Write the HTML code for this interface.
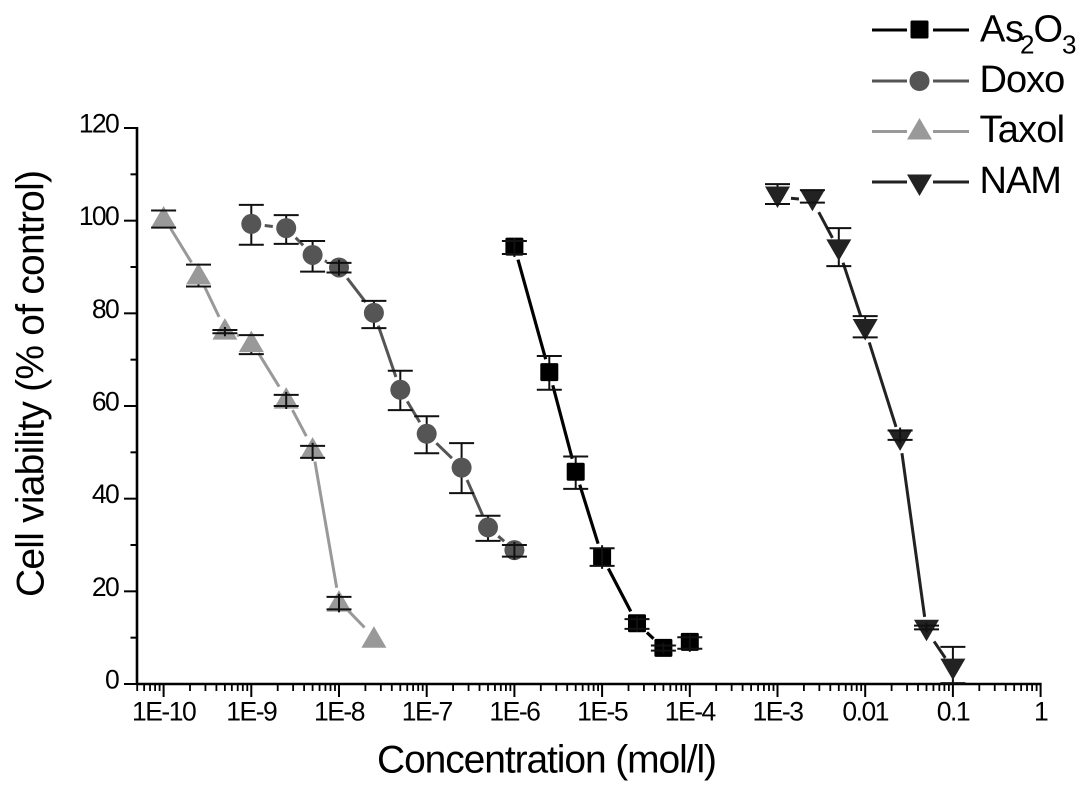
<!DOCTYPE html>
<html lang="en">
<head>
<meta charset="utf-8">
<title>Cell viability vs concentration</title>
<style>
  html, body { margin: 0; padding: 0; background: #fff; }
  body { width: 1087px; height: 794px; overflow: hidden; }
  svg { display: block; }
  text { font-family: "Liberation Sans", Arial, sans-serif; fill: #000; }
</style>
</head>
<body>
<svg id="chart" xmlns="http://www.w3.org/2000/svg" width="1087" height="794" viewBox="0 0 1087 794">
  <text transform="translate(43.500,383.500) rotate(-90)" text-anchor="middle" font-size="39" textLength="427" lengthAdjust="spacing">Cell viability (% of control)</text>
  <text x="547" y="772.500" text-anchor="middle" font-size="39" textLength="340" lengthAdjust="spacing">Concentration (mol/l)</text>

  <g>
    <g>
      <line x1="872" x2="907" y1="30" y2="30" stroke="#000" stroke-width="3"/>
      <line x1="933" x2="969" y1="30" y2="30" stroke="#000" stroke-width="3"/>
      <rect x="910.500" y="20.500" width="18" height="18" rx="1.500" fill="#000"/>
      <text font-size="38" y="41.500"><tspan x="980">A</tspan><tspan x="1005">s</tspan><tspan x="1020" y="53.500" font-size="26">2</tspan><tspan x="1033.500" y="41.500">O</tspan><tspan x="1062" y="53.500" font-size="26">3</tspan></text>
    </g>
    <g>
      <line x1="872" x2="907" y1="81" y2="81" stroke="#555" stroke-width="3"/>
      <line x1="933" x2="969" y1="81" y2="81" stroke="#555" stroke-width="3"/>
      <circle cx="919.500" cy="81" r="10" fill="#555"/>
      <text font-size="38" letter-spacing="-1" x="979.500" y="92">Doxo</text>
    </g>
    <g>
      <line x1="872" x2="907" y1="131.500" y2="131.500" stroke="#999" stroke-width="3"/>
      <line x1="933" x2="969" y1="131.500" y2="131.500" stroke="#999" stroke-width="3"/>
      <polygon points="919.500,118 932,139.500 907,139.500" fill="#999"/>
      <text font-size="38" letter-spacing="-0.8" x="979.500" y="142">Taxol</text>
    </g>
    <g>
      <line x1="872" x2="907" y1="182" y2="182" stroke="#222" stroke-width="3"/>
      <line x1="933" x2="969" y1="182" y2="182" stroke="#222" stroke-width="3"/>
      <polygon points="907,174.500 932,174.500 919.500,196" fill="#222"/>
      <text font-size="38" letter-spacing="-1" x="979.500" y="193">NAM</text>
    </g>
  </g>
</svg>
<script>
// ---- chart data ----
const yMajorTicks = [0, 20, 40, 60, 80, 100, 120];
const yMinorTicks = [10, 30, 50, 70, 90, 110];
const xMajorExponents = [-10, -9, -8, -7, -6, -5, -4, -3, -2, -1, 0];
const xTickLabels = ['1E-10', '1E-9', '1E-8', '1E-7', '1E-6', '1E-5', '1E-4', '1E-3', '0.01', '0.1', '1'];
const xMinorMultipliers = [2, 3, 4, 5, 6, 7, 8, 9];

const as2o3Conc  = [1e-6, 2.5e-6, 5e-6, 1e-5, 2.5e-5, 5e-5, 1e-4];
const as2o3Value = [94.4, 67.3, 45.8, 27.5, 13.1, 7.8, 9.1];
const as2o3Upper = [95.6, 70.8, 49.1, 29.3, 14.0, 8.3, 10.1];
const as2o3Lower = [92.8, 63.5, 42.1, 25.5, 11.9, 7.2, 7.6];

const doxoConc  = [1e-9, 2.5e-9, 5e-9, 1e-8, 2.5e-8, 5e-8, 1e-7, 2.5e-7, 5e-7, 1e-6];
const doxoValue = [99.3, 98.4, 92.6, 89.9, 80.1, 63.5, 54.0, 46.7, 33.8, 28.9];
const doxoUpper = [103.4, 101.2, 95.6, 90.9, 82.7, 67.6, 57.8, 52.0, 36.3, 30.0];
const doxoLower = [94.8, 95.0, 89.0, 88.8, 76.8, 59.1, 49.8, 41.2, 30.9, 27.5];

const taxolConc  = [1e-10, 2.5e-10, 5e-10, 1e-9, 2.5e-9, 5e-9, 1e-8, 2.5e-8];
const taxolValue = [100.8, 88.5, 76.6, 73.9, 61.7, 50.9, 17.9, 10.1];
const taxolUpper = [102.2, 90.5, 76.4, 75.3, 62.4, 51.4, 18.8, 10.1];
const taxolLower = [98.5, 85.8, 75.7, 71.2, 60.0, 48.8, 16.1, 10.1];

const namConc  = [1e-3, 2.5e-3, 5e-3, 0.01, 0.025, 0.05, 0.1];
const namValue = [105.1, 104.4, 93.7, 76.5, 52.7, 11.6, 3.2];
const namUpper = [107.9, 106.6, 98.4, 79.4, 54.7, 12.6, 8.0];
const namLower = [103.6, 103.9, 90.2, 74.8, 52.7, 11.8, 0.2];

// ---- axis functions ----
const NS = 'http://www.w3.org/2000/svg';
const svg = document.getElementById('chart');
const PX_PER_DECADE = 87.7, X_AT_1E10 = 163.6;
const Y_ZERO = 684, PX_PER_UNIT = 556 / 120;
function xFromLog(l) { return X_AT_1E10 + (l + 10) * PX_PER_DECADE; }
function xScale(c) { return xFromLog(Math.log10(c)); }
function yScale(v) { return Y_ZERO - v * PX_PER_UNIT; }

function make(tag, attrs, parent) {
  const el = document.createElementNS(NS, tag);
  for (const k in attrs) el.setAttribute(k, attrs[k]);
  parent.appendChild(el);
  return el;
}

// ---- axes ----
const xLeft = xFromLog(Math.log10(5e-11));
const xRight = xFromLog(0);
const axes = make('g', { stroke: '#000', 'stroke-width': 2 }, svg);



const yAxisLine = make('line', { x1: 137, x2: 137, y1: yScale(120) - 1, y2: Y_ZERO + 1, 'stroke-width': 2.6 }, axes);



const xAxisLine = make('line', { x1: xLeft, x2: xRight + 1, y1: Y_ZERO, y2: Y_ZERO, 'stroke-width': 2.4 }, axes);



yMajorTicks.forEach(function (v) {
  const t = make('line', { x1: 124, x2: 137, y1: yScale(v), y2: yScale(v) }, axes);
  
  
  const label = make('text', { x: 118, y: yScale(v) + 4.5, 'text-anchor': 'end', 'font-size': 26.5, 'letter-spacing': -1.7, stroke: 'none' }, svg);
  
  
  label.textContent = String(v);
});
yMinorTicks.forEach(function (v) {
  const t = make('line', { x1: 130.5, x2: 137, y1: yScale(v), y2: yScale(v) }, axes);
  
  
});

xMajorExponents.forEach(function (e, i) {
  const x = xFromLog(e);
  const t = make('line', { x1: x, x2: x, y1: Y_ZERO, y2: 697 }, axes);
  
  
  const label = make('text', { x: x, y: 720.5, 'text-anchor': 'middle', 'font-size': 26.5, 'letter-spacing': -1.5, stroke: 'none' }, svg);
  
  
  label.textContent = xTickLabels[i];
});
[-11].concat(xMajorExponents.slice(0, -1)).forEach(function (e) {
  xMinorMultipliers.forEach(function (m) {
    const l = e + Math.log10(m);
    if (l < Math.log10(5e-11) - 1e-9) return;
    const x = xFromLog(l);
    const t = make('line', { x1: x, x2: x, y1: Y_ZERO, y2: 691, 'stroke-width': 1.8 }, axes);
    
    
  });
});

// ---- series ----
const GAP = 13.5, CAP = 12.5;

function drawSymbol(kind, x, y, color, parent) {
  if (kind === 'square') return make('rect', { x: x - 9, y: y - 9, width: 18, height: 18, rx: 1.5, fill: color }, parent);
  if (kind === 'circle') return make('circle', { cx: x, cy: y, r: 10, fill: color }, parent);
  if (kind === 'up') return make('polygon', { points: (x) + ',' + (y - 11) + ' ' + (x + 12.5) + ',' + (y + 10.5) + ' ' + (x - 12.5) + ',' + (y + 10.5), fill: color }, parent);
  return make('polygon', { points: (x - 12.5) + ',' + (y - 10.5) + ' ' + (x + 12.5) + ',' + (y - 10.5) + ' ' + (x) + ',' + (y + 11), fill: color }, parent);
}

function drawSeries(name, conc, vals, upper, lower, color, kind, lineWidth) {
  const g = make('g', {}, svg);
  
  

  for (let i = 0; i < conc.length - 1; i++) {
    const x1 = xScale(conc[i]), y1 = yScale(vals[i]);
    const x2 = xScale(conc[i + 1]), y2 = yScale(vals[i + 1]);
    const d = Math.hypot(x2 - x1, y2 - y1);
    if (d <= 2 * GAP) continue;
    const ux = (x2 - x1) / d, uy = (y2 - y1) / d;
    const seg = make('line', {
      x1: x1 + ux * GAP, y1: y1 + uy * GAP,
      x2: x2 - ux * GAP, y2: y2 - uy * GAP,
      stroke: color, 'stroke-width': lineWidth
    }, g);
    
    
  }

  const stemsBelow = make('g', { stroke: '#111', 'stroke-width': 2 }, g);
  const symbols = make('g', {}, g);
  const barsAbove = make('g', { stroke: '#111', 'stroke-width': 2 }, g);

  conc.forEach(function (c, i) {
    const x = xScale(c), y = yScale(vals[i]);
    const yUp = yScale(upper[i]), yLow = yScale(lower[i]);
    const hasError = Math.abs(yUp - yLow) > 0.01;
    const inside = Math.abs(yUp - y) < 10 && Math.abs(yLow - y) < 10;

    if (hasError) {
      const ext = inside ? 3 : 0;
      const stem = make('line', { x1: x, x2: x, y1: yUp - ext, y2: yLow + ext }, inside ? barsAbove : stemsBelow);
      
      
      const capTop = make('line', { x1: x - CAP, x2: x + CAP, y1: yUp, y2: yUp }, barsAbove);
      
      
      const capBottom = make('line', { x1: x - CAP, x2: x + CAP, y1: yLow, y2: yLow }, barsAbove);
      
      
    }

    const sym = drawSymbol(kind, x, y, color, symbols);
    
    
  });
}

drawSeries('taxol', taxolConc, taxolValue, taxolUpper, taxolLower, '#999999', 'up', 3);
drawSeries('doxo', doxoConc, doxoValue, doxoUpper, doxoLower, '#555555', 'circle', 3);
drawSeries('as2o3', as2o3Conc, as2o3Value, as2o3Upper, as2o3Lower, '#000000', 'square', 3.2);
drawSeries('nam', namConc, namValue, namUpper, namLower, '#222222', 'down', 3);
</script>
</body>
</html>
